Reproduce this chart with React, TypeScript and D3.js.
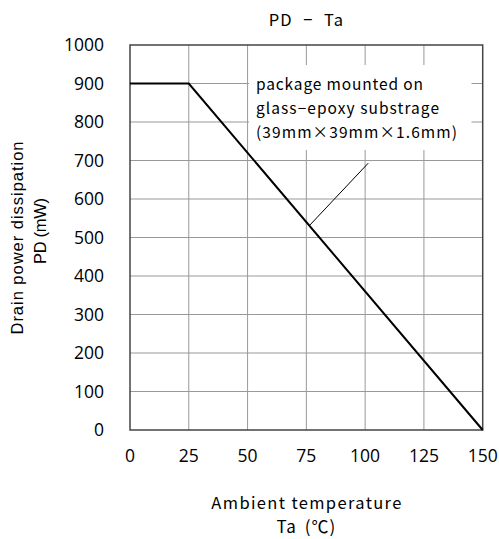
import React from "react";
import * as d3 from "d3";

const temps = [0, 25, 150];
const power = [900, 900, 0];
const xTicks = [0, 25, 50, 75, 100, 125, 150];
const yTicks = [0, 100, 200, 300, 400, 500, 600, 700, 800, 900, 1000];
const leaderT = [76.3, 101.3];
const leaderP = [531, 693];
const noteLines = ["package mounted on", "glass\u2212epoxy substrage", "(39mm\u00D739mm\u00D71.6mm)"];
const noteWidths = [167, 183, 201];
const title = "PD \u2212 Ta";
const yLabel = ["Drain power dissipation", "PD (mW)"];
const yLabelWidths = [193, 66];
const xLabel = ["Ambient temperature", "Ta (\u2103)"];

export default function App() {
  const W = 499, H = 539;
  const L = 130, R = 482.7, T = 45, B = 430;
  const x = d3.scaleLinear().domain([0, 150]).range([L, R]);
  const y = d3.scaleLinear().domain([0, 1000]).range([B, T]);
  const line = d3.line<number>().x((d, i) => x(temps[i])).y((d) => y(d));
  const leader = d3.line<number>().x((d, i) => x(leaderT[i])).y((d) => y(d));
  const tickFont = "'Open Sans', 'DejaVu Sans', sans-serif";
  const jpFont = "'Noto Sans CJK JP', sans-serif";
  const box = { x0: 249, x1: 471.5, y0: 65, y1: 150 };
  const cx = (L + R) / 2;
  return (
    <svg width={W} height={H} style={{ position: "absolute", left: 0, top: 0 }}>
      <rect width={W} height={H} fill="#fff" />
      {xTicks.slice(1, -1).map((t) => (
        <line key={"gx" + t} x1={x(t)} x2={x(t)} y1={T} y2={B} stroke="#999" strokeWidth={1} />
      ))}
      {yTicks.slice(1, -1).map((t) => (
        <line key={"gy" + t} x1={L} x2={R} y1={y(t)} y2={y(t)} stroke="#999" strokeWidth={1} />
      ))}
      <rect x={box.x0} y={box.y0} width={box.x1 - box.x0} height={box.y1 - box.y0} fill="#fff" />
      <rect x={L} y={T} width={R - L} height={B - T} fill="none" stroke="#444" strokeWidth={1.5} />
      <path d={line(power) || ""} fill="none" stroke="#000" strokeWidth={2} />
      <path d={leader(leaderP) || ""} fill="none" stroke="#000" strokeWidth={1} />
      {noteLines.map((s, i) => (
        <text key={s} x={256} y={85 + i * 24} dy="0.35em" fontFamily={jpFont} fontSize={15.5} fill="#000"
          textLength={noteWidths[i]} lengthAdjust="spacing">
          {s}
        </text>
      ))}
      {yTicks.map((t) => (
        <text key={"ty" + t} x={104} y={y(t)} dy="0.36em" textAnchor="end" fontFamily={tickFont} fontSize={17.5} fill="#000">
          {t}
        </text>
      ))}
      {xTicks.map((t) => (
        <text key={"tx" + t} x={x(t)} y={456} dy="0.36em" textAnchor="middle" fontFamily={tickFont} fontSize={17.5} fill="#000">
          {t}
        </text>
      ))}
      <text x={cx} y={20} dy="0.35em" textAnchor="middle" fontFamily={jpFont} fontSize={16.5} fill="#000"
        wordSpacing={6} letterSpacing={1}>
        {title}
      </text>
      {yLabel.map((s, i) => (
        <text key={s} transform={`translate(${17 + i * 23},${i === 0 ? 238 : 231}) rotate(-90)`} dy="0.35em" textAnchor="middle"
          fontFamily="'Liberation Sans', Arial, sans-serif" fontSize={16.5} fill="#000"
          textLength={yLabelWidths[i]} lengthAdjust="spacing">
          {s}
        </text>
      ))}
      <text x={cx} y={503} dy="0.35em" textAnchor="middle" fontFamily={jpFont} fontSize={16.5} fill="#000"
        textLength={190} lengthAdjust="spacing">
        {xLabel[0]}
      </text>
      <text x={cx} y={527} dy="0.35em" textAnchor="middle" fontFamily={jpFont} fontSize={17} fill="#000"
        wordSpacing={3} letterSpacing={1}>
        {xLabel[1]}
      </text>
    </svg>
  );
}
